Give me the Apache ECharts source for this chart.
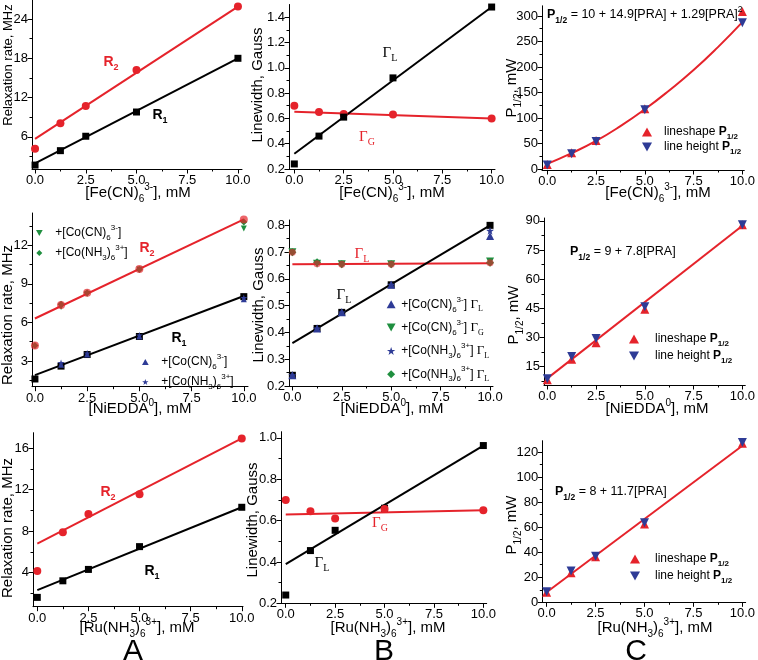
<!DOCTYPE html>
<html>
<head>
<meta charset="utf-8">
<title>PRA relaxation</title>
<script src="https://cdn.jsdelivr.net/npm/echarts@6/dist/echarts.min.js"></script>
<style>html,body{margin:0;padding:0;background:#fff}#main{width:758px;height:660px}</style>
</head>
<body>
<div id="main"></div>
<script>
// concentrations, mM
var conc = [0, 1.25, 2.5, 5, 10];
var fitX = [0, 10];
var xTicks = [0, 2.5, 5, 7.5, 10];
var xMinor = [1.25, 3.75, 6.25, 8.75];

// row 1: Fe(CN)6 3-
var feR1 = [1.7, 3.9, 6.1, 9.8, 18.0];
var feR2 = [4.2, 8.1, 10.7, 16.2, 25.9];
var feR1Fit = [1.95, 18.0];
var feR2Fit = [5.7, 25.9];
var feGL = [0.24, 0.46, 0.61, 0.92, 1.48];
var feGG = [0.70, 0.65, 0.635, 0.63, 0.60];
var feGLFit = [0.32, 1.48];
var feGGFit = [0.652, 0.60];
var feShape = [9, 32, 56, 118, 309];
var feHeight = [8, 30, 54, 116, 287];
var feCurveX = [0, 1.25, 2.5, 3.75, 5, 6.25, 7.5, 8.75, 10];
var feCurve = [10, 31, 55, 84, 117, 154, 194, 239, 288];

// row 2: NiEDDA
var niR1 = [1.6, 2.6, 3.5, 4.9, 8.0];
var niR2 = [4.2, 7.35, 8.3, 10.15, 14.0];
var niR1Fit = [1.9, 8.05];
var niR2Fit = [6.3, 14.0];
var niCnR2 = [null, 7.2, 8.2, 10.1, 13.3];
var niNhR2 = [4.2, 7.4, 8.3, 10.1, 13.8];
var niCnR1 = [null, 2.7, 3.5, 4.9, 7.8];
var niNhR1 = [null, 2.85, 3.6, 5.0, 7.9];
var niGL = [0.24, 0.415, 0.475, 0.578, 0.80];
var niGG = [0.70, 0.657, 0.655, 0.655, 0.66];
var niGLFit = [0.36, 0.80];
var niGGFit = [0.655, 0.658];
var niCnGL = [0.24, 0.415, 0.475, 0.578, 0.76];
var niCnGG = [0.70, 0.657, 0.655, 0.655, 0.665];
var niNhGL = [0.24, 0.415, 0.475, 0.578, 0.78];
var niNhGG = [0.70, 0.662, 0.655, 0.655, 0.66];
var niShape = [8.3, 18.9, 27.3, 44.5, 88];
var niHeight = [8.8, 20.3, 29.5, 45.8, 88];
var niPFit = [9, 87.5];

// row 3: Ru(NH3)6 3+
var ruR1 = [1.6, 3.2, 4.3, 6.5, 10.3];
var ruR2 = [4.15, 7.9, 9.65, 11.55, 16.95];
var ruR1Fit = [2.3, 10.3];
var ruR2Fit = [6.8, 16.95];
var ruGL = [0.24, 0.455, 0.553, 0.66, 0.963];
var ruGG = [0.70, 0.645, 0.61, 0.656, 0.65];
var ruGLFit = [0.39, 0.963];
var ruGGFit = [0.63, 0.65];
var ruShape = [8, 23.5, 36.3, 62.5, 127];
var ruHeight = [8.5, 25, 36.8, 63.5, 127.5];
var ruPFit = [8, 125];

// y tick labels
var yTicksA1 = [6, 12, 18, 24], yMinorA1 = [3, 9, 15, 21];
var yTicksB1 = [0.2, 0.4, 0.6, 0.8, 1.0, 1.2, 1.4], yMinorB1 = [0.3, 0.5, 0.7, 0.9, 1.1, 1.3];
var yTicksC1 = [0, 50, 100, 150, 200, 250, 300], yMinorC1 = [25, 75, 125, 175, 225, 275];
var yTicksA2 = [3, 6, 9, 12], yMinorA2 = [1.5, 4.5, 7.5, 10.5, 13.5];
var yTicksB2 = [0.2, 0.3, 0.4, 0.5, 0.6, 0.7, 0.8], yMinorB2 = [0.25, 0.35, 0.45, 0.55, 0.65, 0.75];
var yTicksC2 = [15, 30, 45, 60, 75, 90], yMinorC2 = [7.5, 22.5, 37.5, 52.5, 67.5, 82.5];
var yTicksA3 = [4, 8, 12, 16], yMinorA3 = [2, 6, 10, 14];
var yTicksB3 = [0.2, 0.4, 0.6, 0.8, 1.0], yMinorB3 = [0.3, 0.5, 0.7, 0.9];
var yTicksC3 = [0, 20, 40, 60, 80, 100, 120], yMinorC3 = [10, 30, 50, 70, 90, 110];

var SANS = 'Liberation Sans', SERIF = 'Liberation Serif';
var RED = '#e5232b', BLUE = '#2e3b96', GREEN = '#1f8f3f';
var UPT = 'path://M5,0L10,9L0,9Z';
var DOWN = 'path://M0,0L10,0L5,9Z';
var DIAM = 'path://M5,0L10,5L5,10L0,5Z';
var STAR = 'path://M5,0L6.2,3.6L10,3.6L6.9,5.9L8.1,9.5L5,7.3L1.9,9.5L3.1,5.9L0,3.6L3.8,3.6Z';

// plot boxes [left, top, right, bottom] in px
var panels = [
  {box: [32, 0, 242, 169], x: [-0.15, 10.2], y: [1.1, 26.9], t: yTicksA1, m: yMinorA1, dec: 0},
  {box: [289, 4.5, 495, 169], x: [-0.27, 10.17], y: [0.2, 1.5], t: yTicksB1, m: yMinorB1, dec: 1},
  {box: [542, 5.8, 746, 170], x: [-0.27, 10.1], y: [-2, 320], t: yTicksC1, m: yMinorC1, dec: 0},
  {box: [32, 213, 248, 386.7], x: [-0.14, 10.2], y: [1.0, 14.5], t: yTicksA2, m: yMinorA2, dec: 0},
  {box: [289, 220, 493, 386], x: [-0.17, 10.15], y: [0.2, 0.82], t: yTicksB2, m: yMinorB2, dec: 1},
  {box: [544, 218, 750, 385], x: [-0.17, 10.15], y: [5.6, 91.5], t: yTicksC2, m: yMinorC2, dec: 0},
  {box: [33, 432.7, 243, 606.7], x: [-0.21, 10.06], y: [0.7, 17.5], t: yTicksA3, m: yMinorA3, dec: 0},
  {box: [281, 431.7, 486.7, 603.3], x: [-0.24, 10.17], y: [0.2, 1.03], t: yTicksB3, m: yMinorB3, dec: 1},
  {box: [542.3, 440.7, 745.7, 602.3], x: [-0.22, 10.17], y: [0, 129], t: yTicksC3, m: yMinorC3, dec: 0}
];

function pairs(xs, ys) {
  var out = [];
  for (var i = 0; i < xs.length; i++) if (ys[i] != null) out.push([xs[i], ys[i]]);
  return out;
}

function axis(gi, range, pos, ticks, minor, dec, isMinor) {
  return {
    gridIndex: gi, type: 'value', position: pos, min: range[0], max: range[1],
    splitLine: {show: false},
    axisLine: {show: !isMinor, onZero: false, lineStyle: {color: '#000', width: 1}},
    axisTick: {show: true, inside: false, customValues: isMinor ? minor : ticks,
      length: isMinor ? 2.5 : 4.5, lineStyle: {color: '#000', width: 1}},
    axisLabel: isMinor ? {show: false} : {
      customValues: ticks, margin: pos === 'bottom' ? 5 : 4, color: '#000',
      fontFamily: SANS, fontSize: 13,
      formatter: function (v) { return v.toFixed(dec); }
    }
  };
}

var grids = [], xAxes = [], yAxes = [];
panels.forEach(function (p, i) {
  grids.push({left: p.box[0], top: p.box[1], width: p.box[2] - p.box[0], height: p.box[3] - p.box[1]});
  xAxes.push(axis(i, p.x, 'bottom', xTicks, xMinor, 1, false));
  xAxes.push(axis(i, p.x, 'bottom', xTicks, xMinor, 1, true));
  yAxes.push(axis(i, p.y, 'left', p.t, p.m, p.dec, false));
  yAxes.push(axis(i, p.y, 'left', p.t, p.m, p.dec, true));
});

function pts(pi, ys, symbol, size, color, name, opacity) {
  return {name: name, type: 'scatter', xAxisIndex: 2 * pi, yAxisIndex: 2 * pi,
    data: pairs(conc, ys), symbol: symbol, symbolSize: size, clip: false, z: 3,
    itemStyle: {color: color, opacity: opacity == null ? 1 : opacity}};
}
function fit(pi, ys, color, xs, smooth) {
  return {type: 'line', xAxisIndex: 2 * pi, yAxisIndex: 2 * pi, data: pairs(xs || fitX, ys),
    showSymbol: false, symbol: 'none', smooth: !!smooth, silent: true, z: 2,
    lineStyle: {color: color, width: 2}};
}

var series = [
  fit(0, feR2Fit, RED), fit(0, feR1Fit, '#000'),
  pts(0, feR2, 'circle', 8, RED), pts(0, feR1, 'rect', 7, '#000'),

  fit(1, feGGFit, RED), fit(1, feGLFit, '#000'),
  pts(1, feGG, 'circle', 8, RED), pts(1, feGL, 'rect', 7, '#000'),

  fit(2, feCurve, RED, feCurveX, true),
  pts(2, feShape, UPT, 9, RED, 'c1shape'), pts(2, feHeight, DOWN, 9, BLUE, 'c1height'),

  fit(3, niR2Fit, RED), fit(3, niR1Fit, '#000'),
  pts(3, niCnR2, DOWN, 6, GREEN, 'a2cnG'), pts(3, niNhR2, DIAM, 7, GREEN, 'a2nhG'),
  pts(3, niR2, 'circle', 8, RED, null, 0.7),
  pts(3, niR1, 'rect', 7, '#000'),
  pts(3, niCnR1, UPT, 6, BLUE, 'a2cnB'), pts(3, niNhR1, STAR, 7, BLUE, 'a2nhB'),

  fit(4, niGGFit, RED), fit(4, niGLFit, '#000'),
  pts(4, niCnGG, DOWN, 8, GREEN, 'b2cnGG'), pts(4, niNhGG, DIAM, 8, GREEN, 'b2nhGG'),
  pts(4, niGG, 'circle', 7, RED, null, 0.6),
  pts(4, niGL, 'rect', 7, '#000'),
  pts(4, niCnGL, UPT, 8, BLUE, 'b2cnGL'), pts(4, niNhGL, STAR, 8, BLUE, 'b2nhGL'),

  fit(5, niPFit, RED),
  pts(5, niShape, UPT, 9, RED, 'c2shape'), pts(5, niHeight, DOWN, 9, BLUE, 'c2height'),

  fit(6, ruR2Fit, RED), fit(6, ruR1Fit, '#000'),
  pts(6, ruR2, 'circle', 8, RED), pts(6, ruR1, 'rect', 7, '#000'),

  fit(7, ruGGFit, RED), fit(7, ruGLFit, '#000'),
  pts(7, ruGL, 'rect', 7, '#000'), pts(7, ruGG, 'circle', 8, RED),

  fit(8, ruPFit, RED),
  pts(8, ruShape, UPT, 9, RED, 'c3shape'), pts(8, ruHeight, DOWN, 9, BLUE, 'c3height')
];

// legends
var CN = '{l|+[Co(CN)}{ls|6}{lp|3-}{l|]}';
var NH = '{l|+[Co(NH}{ls|3}{l|)}{ls|6}{lp|3+}{l|]}';
var legendLabels = {
  a2cnG: CN, a2nhG: NH, a2cnB: CN, a2nhB: NH,
  b2cnGL: CN + '{l| }{lg|Γ}{lgs|L}', b2cnGG: CN + '{l| }{lg|Γ}{lgs|G}',
  b2nhGL: NH + '{l| }{lg|Γ}{lgs|L}', b2nhGG: NH + '{l| }{lg|Γ}{lgs|L}',
  c1shape: '{l|lineshape }{lb|P}{lbs|1/2}', c1height: '{l|line height }{lb|P}{lbs|1/2}',
  c2shape: '{l|lineshape }{lb|P}{lbs|1/2}', c2height: '{l|line height }{lb|P}{lbs|1/2}',
  c3shape: '{l|lineshape }{lb|P}{lbs|1/2}', c3height: '{l|line height }{lb|P}{lbs|1/2}'
};
var legendRich = {
  l: {fontFamily: SANS, fontSize: 12, lineHeight: 18, color: '#000'},
  ls: {fontFamily: SANS, fontSize: 8, lineHeight: 8, verticalAlign: 'bottom', color: '#000'},
  lp: {fontFamily: SANS, fontSize: 8, lineHeight: 8, verticalAlign: 'top', color: '#000'},
  lb: {fontFamily: SANS, fontSize: 12, fontWeight: 'bold', lineHeight: 18, color: '#000'},
  lbs: {fontFamily: SANS, fontSize: 8, fontWeight: 'bold', lineHeight: 8, verticalAlign: 'bottom', color: '#000'},
  lg: {fontFamily: SERIF, fontSize: 13, lineHeight: 18, color: '#000'},
  lgs: {fontFamily: SERIF, fontSize: 8, lineHeight: 8, verticalAlign: 'bottom', color: '#000'}
};
function legend(names, left, top, w, h, gap) {
  return {data: names, left: left, top: top, orient: 'vertical', padding: 0,
    itemWidth: w, itemHeight: h, itemGap: gap, selectedMode: false, symbolKeepAspect: true,
    formatter: function (n) { return legendLabels[n]; },
    textStyle: {fontFamily: SANS, fontSize: 12, color: '#000', rich: legendRich}};
}
var legends = [
  legend(['a2cnG', 'a2nhG'], 36, 224, 22, 6, 2),
  legend(['a2cnB', 'a2nhB'], 142, 353, 22, 6, 2),
  legend(['b2cnGL', 'b2cnGG', 'b2nhGL', 'b2nhGG'], 386.7, 295.3, 10, 8, 5.3),
  legend(['c1shape', 'c1height'], 642, 126, 24, 9, 0),
  legend(['c2shape', 'c2height'], 629, 333, 32, 9, 2),
  legend(['c3shape', 'c3height'], 630, 553, 30, 9, 2)
];

// texts
var rich = {
  t: {fontFamily: SANS, fontSize: 15, lineHeight: 22},
  ts: {fontFamily: SANS, fontSize: 10, lineHeight: 10, verticalAlign: 'bottom'},
  tp: {fontFamily: SANS, fontSize: 10, lineHeight: 10, verticalAlign: 'top'},
  t2: {fontFamily: SANS, fontSize: 13, lineHeight: 22},
  e: {fontFamily: SANS, fontSize: 12.5, lineHeight: 20},
  eb: {fontFamily: SANS, fontSize: 12.5, fontWeight: 'bold', lineHeight: 20},
  ebs: {fontFamily: SANS, fontSize: 8.5, fontWeight: 'bold', lineHeight: 8, verticalAlign: 'bottom'},
  ep: {fontFamily: SANS, fontSize: 8.5, lineHeight: 8, verticalAlign: 'top'},
  r: {fontFamily: SANS, fontSize: 14, fontWeight: 'bold', lineHeight: 20},
  rs: {fontFamily: SANS, fontSize: 9, fontWeight: 'bold', lineHeight: 9, verticalAlign: 'bottom'},
  g: {fontFamily: SERIF, fontSize: 15, lineHeight: 20},
  gs: {fontFamily: SERIF, fontSize: 10, lineHeight: 10, verticalAlign: 'bottom'}
};
function txt(x, y, text, opt) {
  opt = opt || {};
  return {type: 'text', x: x, y: y, rotation: opt.rot || 0, silent: true, z: 10,
    style: {text: text, rich: rich, fill: opt.fill || '#000', align: opt.align || 'center',
      verticalAlign: 'middle', fontFamily: SANS, fontSize: opt.size || 15}};
}
var UP = Math.PI / 2;
var FE = '{t|[Fe(CN)}{ts|6}{tp|3-}{t|], mM}';
var NI = '{t|[NiEDDA}{tp|0}{t|], mM}';
var RU = '{t|[Ru(NH}{ts|3}{t|)}{ts|6}{tp|3+}{t|], mM}';
var RATE = '{t|Relaxation rate, MHz}';
var RATE_TOP = '{t2|Relaxation rate, MHz}';
var WIDTH = '{t|Linewidth, Gauss}';
var PHALF = '{t|P}{ts|1/2}{t|, mW}';
var R1 = '{r|R}{rs|1}', R2 = '{r|R}{rs|2}';
var GL = '{g|Γ}{gs|L}', GG = '{g|Γ}{gs|G}';

var graphics = [
  txt(138, 193, FE), txt(392, 193, FE), txt(658, 193, FE),
  txt(140, 409, NI), txt(392, 409, NI), txt(657, 409, NI),
  txt(137, 628, RU), txt(388, 628, RU), txt(655, 628, RU),
  txt(8, 65, RATE_TOP, {rot: UP}), txt(8, 315, RATE, {rot: UP}), txt(8, 528, RATE, {rot: UP}),
  txt(258, 85, WIDTH, {rot: UP}), txt(259, 305, WIDTH, {rot: UP}), txt(253, 520, WIDTH, {rot: UP}),
  txt(512, 88, PHALF, {rot: UP}), txt(514, 315, PHALF, {rot: UP}), txt(512, 525, PHALF, {rot: UP}),

  txt(111, 62, R2, {fill: RED}), txt(160, 115, R1),
  txt(390, 53, GL), txt(367, 137, GG, {fill: RED}),
  txt(147, 248, R2, {fill: RED}), txt(179, 338, R1),
  txt(362, 254, GL, {fill: RED}), txt(344, 295, GL),
  txt(108, 492, R2, {fill: RED}), txt(152, 571, R1),
  txt(380, 523, GG, {fill: RED}), txt(322, 563, GL),

  txt(547, 15, '{eb|P}{ebs|1/2}{e| = 10 + 14.9[PRA] + 1.29[PRA]}{ep|2}', {align: 'left'}),
  txt(570, 252, '{eb|P}{ebs|1/2}{e| = 9 + 7.8[PRA]}', {align: 'left'}),
  txt(555, 492, '{eb|P}{ebs|1/2}{e| = 8 + 11.7[PRA]}', {align: 'left'}),

  txt(133, 652, 'A', {size: 30}), txt(384, 652, 'B', {size: 30}), txt(636, 652, 'C', {size: 30})
];

var chart = echarts.init(document.getElementById('main'));
chart.setOption({
  animation: false,
  backgroundColor: '#fff',
  textStyle: {fontFamily: SANS},
  grid: grids,
  xAxis: xAxes,
  yAxis: yAxes,
  legend: legends,
  series: series,
  graphic: graphics
});
</script>
</body>
</html>
